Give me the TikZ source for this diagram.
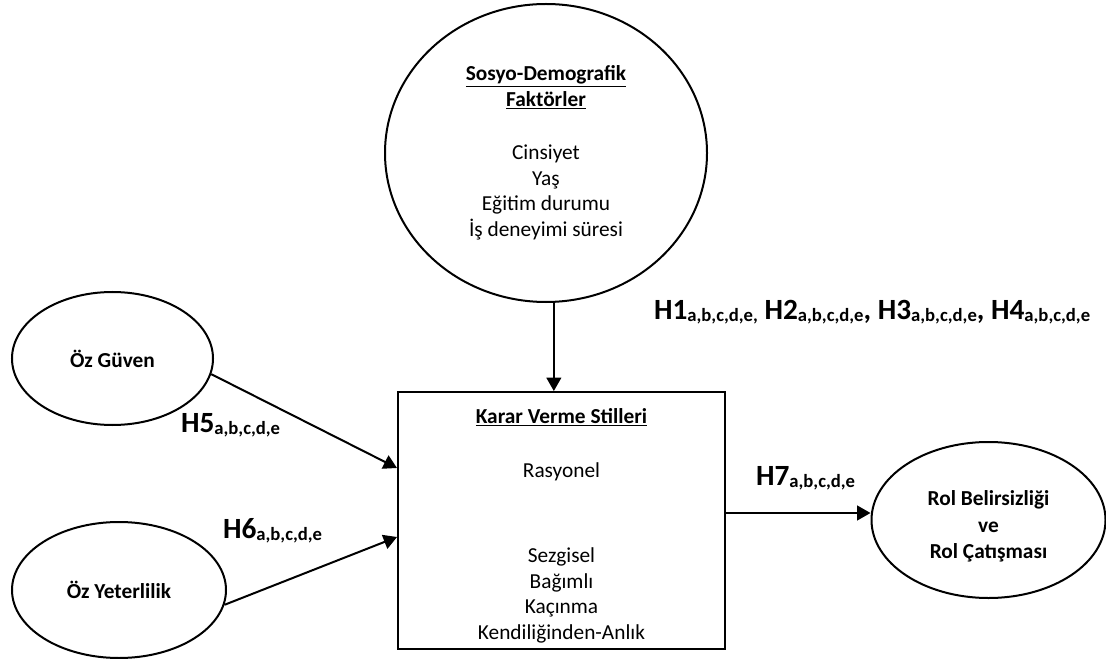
\documentclass[tikz,border=0pt]{standalone}
\usepackage{fontspec}
\setmainfont{Carlito}
\usetikzlibrary{shapes.geometric,arrows.meta}

\newcommand{\hlab}[2]{\textbf{H#1}\raisebox{-1.5pt}{\fontsize{14}{14}\selectfont\textbf{#2}}}

\begin{document}
\begin{tikzpicture}[x=0.75pt, y=-0.75pt, line width=1.5pt,
    main/.style = {draw, ellipse, inner sep=0pt, align=center, font=\fontsize{16}{19.25}\selectfont},
    kutu/.style = {draw, rectangle, inner sep=0pt, align=center, font=\fontsize{16}{19.25}\selectfont},
    hyp/.style = {anchor=base west, inner sep=0pt, font=\fontsize{22}{26}\selectfont},
    ok/.style = {-{Triangle[length=10pt, width=11pt]}}]
    \useasboundingbox (0,0) rectangle (1106,659);

    \node[main, minimum width=241.5pt, minimum height=223.5pt] at (546,153) (sd)
      {\underline{\textbf{Sosyo-Demografik}}\\\underline{\textbf{Faktörler}}\\[20.5pt]
       Cinsiyet\\Yaş\\Eğitim durumu\\İş deneyimi süresi};
    \node[kutu, minimum width=245.25pt, minimum height=192.75pt] at (561.5,520.5) (kvs)
      {\rule{0pt}{19pt}\underline{\textbf{Karar Verme Stilleri}}\\[21.25pt]Rasyonel\\[44.5pt]
       Sezgisel\\Bağımlı\\Kaçınma\\Kendiliğinden-Anlık};
    \node[main, minimum width=150.75pt, minimum height=99.75pt] at (112.5,358.5) (og) {\textbf{Öz Güven}};
    \node[main, minimum width=160.5pt, minimum height=102pt] at (119,590) (oy) {\textbf{Öz Yeterlilik}};
    \node[main, minimum width=175.5pt, minimum height=117pt, font=\fontsize{16}{20}\selectfont] at (988.5,520) (rol)
      {\rule{0pt}{21pt}\textbf{Rol Belirsizliği}\\\textbf{ve}\\\textbf{Rol Çatışması}};

    \node[hyp] at (653,320) (h14) {\hlab{1}{a,b,c,d,e,} \hlab{2}{a,b,c,d,e}\textbf{,} \hlab{3}{a,b,c,d,e}\textbf{,} \hlab{4}{a,b,c,d,e}};
    \node[hyp] at (180,432) (h5) {\hlab{5}{a,b,c,d,e}};
    \node[hyp] at (222,538) (h6) {\hlab{6}{a,b,c,d,e}};
    \node[hyp] at (755,485) (h7) {\hlab{7}{a,b,c,d,e}};

    \path[ok]
    (sd.-87) edge (sd.-87 |- kvs.north)
    (og.-9) edge (kvs.west |- 0,468)
    (oy.-8) edge (kvs.west |- 0,537)
    (kvs.east |- 0,513) edge (rol.west |- 0,513)
    ;
\end{tikzpicture}
\end{document}
